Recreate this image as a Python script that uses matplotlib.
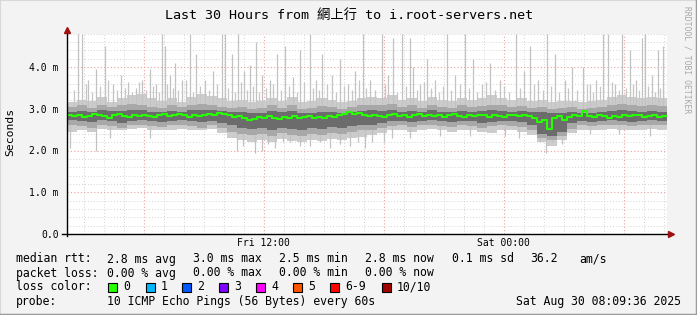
import numpy as np
import pandas as pd
import matplotlib
matplotlib.use("Agg")
import matplotlib.pyplot as plt
import matplotlib.dates as mdates
from matplotlib.ticker import MultipleLocator, FuncFormatter
from matplotlib.patches import Rectangle
from matplotlib.lines import Line2D


# ---------- Data (rtt values in milliseconds) ----------

start = pd.Timestamp("2025-08-29 02:09:36")
end = pd.Timestamp("2025-08-30 08:09:36")

# median rtt, one value per 15 minutes
median_rtt = [
    2.84, 2.82, 2.86, 2.80, 2.83, 2.88, 2.85, 2.82, 2.79, 2.84,
    2.87, 2.83, 2.80, 2.85, 2.82, 2.86, 2.83, 2.80, 2.84, 2.87,
    2.82, 2.85, 2.88, 2.84, 2.81, 2.86, 2.83, 2.85, 2.88, 2.86,
    2.90, 2.87, 2.84,
    2.80, 2.82, 2.78, 2.74, 2.76, 2.80, 2.78, 2.82, 2.79, 2.76,
    2.80, 2.77, 2.82, 2.78, 2.80, 2.83, 2.78, 2.81, 2.79, 2.82,
    2.80, 2.84,
    2.88, 2.92, 2.87, 2.90,
    2.85, 2.82, 2.86, 2.83, 2.80, 2.84, 2.87, 2.82, 2.85, 2.81,
    2.84, 2.88, 2.83, 2.86, 2.82, 2.85, 2.80, 2.84, 2.87, 2.83,
    2.80, 2.85, 2.82, 2.86, 2.84, 2.81, 2.85, 2.83, 2.80, 2.84,
    2.86, 2.82, 2.85, 2.83,
    2.78, 2.68, 2.72, 2.52, 2.78, 2.82, 2.72,
    2.80, 2.84, 2.82, 2.95, 2.83, 2.80, 2.84, 2.82, 2.78, 2.83,
    2.81, 2.85, 2.82, 2.86, 2.84, 2.80, 2.83, 2.85, 2.81, 2.83,
]

# smoke envelopes, one value per 30 minutes
smoke_hi_light = [
    3.15, 3.22, 3.18, 3.28, 3.15, 3.25, 3.32, 3.35, 3.25, 3.18,
    3.25, 3.15, 3.28, 3.35, 3.30, 3.25, 3.18, 3.22, 3.15, 3.18,
    3.25, 3.18, 3.28, 3.15, 3.18, 3.25, 3.22, 3.15, 3.18, 3.25,
    3.28, 3.25, 3.32, 3.22, 3.25, 3.18, 3.28, 3.22, 3.18, 3.25,
    3.22, 3.25, 3.32, 3.25, 3.22, 3.25, 3.18, 3.22, 3.15, 3.18,
    3.18, 3.15, 3.18, 3.22, 3.28, 3.32, 3.28, 3.25, 3.28, 3.25,
]
smoke_hi_mid = [
    3.05, 3.08, 3.02, 3.10, 3.05, 3.08, 3.12, 3.10, 3.05, 3.02,
    3.08, 3.03, 3.10, 3.12, 3.10, 3.05, 3.02, 3.05, 3.00, 3.02,
    3.08, 3.02, 3.10, 3.00, 3.02, 3.06, 3.04, 3.00, 3.03, 3.08,
    3.10, 3.08, 3.12, 3.05, 3.08, 3.02, 3.10, 3.05, 3.02, 3.08,
    3.04, 3.06, 3.10, 3.08, 3.04, 3.06, 3.02, 3.04, 3.00, 3.02,
    3.03, 3.00, 3.02, 3.05, 3.10, 3.12, 3.10, 3.06, 3.10, 3.06,
]
smoke_hi_dark = [
    2.93, 2.95, 2.92, 2.96, 2.94, 2.95, 2.97, 2.96, 2.93, 2.92,
    2.95, 2.93, 2.96, 2.98, 2.97, 2.94, 2.92, 2.93, 2.90, 2.91,
    2.94, 2.92, 2.95, 2.90, 2.91, 2.93, 2.92, 2.90, 2.92, 2.95,
    2.96, 2.95, 2.97, 2.93, 2.95, 2.92, 2.96, 2.93, 2.92, 2.95,
    2.93, 2.94, 2.96, 2.95, 2.93, 2.94, 2.92, 2.93, 2.90, 2.91,
    2.92, 2.90, 2.91, 2.93, 2.95, 2.96, 2.95, 2.93, 2.95, 2.93,
]
smoke_lo_dark = [
    2.72, 2.70, 2.68, 2.72, 2.70, 2.66, 2.70, 2.72, 2.70, 2.68,
    2.70, 2.72, 2.70, 2.68, 2.70, 2.66, 2.60, 2.55, 2.52, 2.55,
    2.50, 2.55, 2.52, 2.50, 2.55, 2.52, 2.56, 2.55, 2.58, 2.60,
    2.62, 2.66, 2.70, 2.70, 2.68, 2.70, 2.72, 2.70, 2.68, 2.70,
    2.70, 2.66, 2.68, 2.70, 2.70, 2.68, 2.60, 2.40, 2.35, 2.45,
    2.65, 2.70, 2.68, 2.70, 2.72, 2.70, 2.68, 2.70, 2.72, 2.70,
]
smoke_lo_mid = [
    2.60, 2.58, 2.55, 2.60, 2.58, 2.55, 2.60, 2.62, 2.58, 2.56,
    2.60, 2.62, 2.58, 2.55, 2.60, 2.55, 2.45, 2.40, 2.38, 2.40,
    2.35, 2.42, 2.38, 2.35, 2.40, 2.38, 2.42, 2.40, 2.45, 2.48,
    2.50, 2.55, 2.58, 2.60, 2.56, 2.60, 2.62, 2.58, 2.56, 2.60,
    2.58, 2.55, 2.58, 2.60, 2.58, 2.56, 2.50, 2.30, 2.25, 2.35,
    2.52, 2.60, 2.58, 2.60, 2.62, 2.60, 2.58, 2.60, 2.62, 2.60,
]
smoke_lo_light = [
    2.45, 2.50, 2.45, 2.52, 2.48, 2.50, 2.52, 2.55, 2.50, 2.48,
    2.50, 2.52, 2.48, 2.50, 2.52, 2.42, 2.30, 2.25, 2.20, 2.25,
    2.20, 2.28, 2.22, 2.20, 2.25, 2.22, 2.28, 2.25, 2.30, 2.32,
    2.38, 2.42, 2.48, 2.50, 2.45, 2.50, 2.52, 2.48, 2.45, 2.50,
    2.48, 2.45, 2.42, 2.50, 2.48, 2.45, 2.38, 2.20, 2.10, 2.25,
    2.42, 2.50, 2.48, 2.50, 2.52, 2.50, 2.48, 2.50, 2.52, 2.50,
]

# single slow pings (hours after start, rtt)
spike_up_hours = [
    0.55, 0.75, 1.05, 1.45, 1.90, 2.30, 2.70, 3.05, 3.45, 3.75,
    4.15, 4.45, 4.75, 4.90, 5.15, 5.40, 5.75, 6.15, 6.45, 6.90,
    7.30, 7.75, 7.90, 8.25, 8.55, 8.85, 9.15, 9.45, 9.75, 10.15,
    10.50, 10.90, 11.30, 11.65, 12.15, 12.45, 12.75, 13.25, 13.65, 14.05,
    14.40, 14.80, 15.15, 15.75, 16.05, 16.30, 16.75, 17.15, 17.30, 17.65,
    18.00, 18.40, 19.00, 19.40, 19.90, 20.30, 20.75, 21.15, 21.65, 22.45,
    22.85, 23.15, 23.55, 24.00, 24.40, 24.90, 25.25, 25.80, 26.15, 26.45,
    26.80, 27.05, 27.40, 27.75, 28.15, 28.45, 28.75, 28.90, 29.25, 29.55,
    29.80,
]
spike_up_top = [
    4.80, 4.80, 3.70, 3.95, 4.50, 3.60, 3.80, 3.65, 3.50, 3.70,
    3.95, 3.60, 4.80, 4.50, 3.80, 4.10, 3.70, 4.80, 4.30, 3.70,
    3.90, 4.80, 4.80, 4.30, 4.80, 3.90, 4.05, 4.60, 3.80, 3.70,
    4.30, 4.50, 3.75, 4.40, 4.80, 3.70, 4.30, 3.80, 4.20, 3.60,
    3.90, 4.80, 3.70, 4.80, 3.80, 4.70, 4.80, 4.70, 4.00, 3.60,
    4.20, 3.70, 4.80, 3.80, 4.80, 4.20, 3.60, 4.10, 3.70, 4.80,
    3.90, 4.50, 3.70, 4.80, 4.30, 3.70, 4.00, 4.00, 3.60, 3.70,
    4.80, 4.80, 3.60, 4.80, 4.40, 3.70, 4.70, 4.80, 3.80, 4.40,
    4.50,
]
# shorter slow pings filling the band above the median
spike_mid_hours = [
    0.35, 0.95, 1.25, 1.65, 2.05, 2.50, 2.90, 3.25, 3.60, 3.95,
    4.30, 4.60, 5.00, 5.30, 5.55, 5.95, 6.30, 6.65, 7.10, 7.50,
    8.05, 8.40, 8.70, 9.00, 9.30, 9.60, 9.95, 10.30, 10.70, 11.10,
    11.50, 11.85, 12.30, 12.60, 13.00, 13.45, 13.85, 14.25, 14.60, 14.95,
    15.40, 15.90, 16.50, 16.95, 17.50, 17.85, 18.20, 18.60, 18.80, 19.20,
    19.65, 20.10, 20.50, 20.95, 21.40, 21.85, 22.10, 22.65, 23.35, 23.80,
    24.20, 24.60, 25.05, 25.50, 26.00, 26.30, 26.65, 27.25, 27.60, 27.95,
    28.30, 28.60, 29.05, 29.40, 29.65,
]
spike_mid_top = [
    3.45, 3.60, 3.40, 3.55, 3.70, 3.45, 3.50, 3.40, 3.65, 3.45,
    3.55, 3.40, 3.60, 3.50, 3.45, 3.70, 3.40, 3.55, 3.45, 3.60,
    3.50, 3.40, 3.65, 3.45, 3.55, 3.40, 3.50, 3.60, 3.45, 3.55,
    3.40, 3.65, 3.50, 3.45, 3.60, 3.40, 3.55, 3.45, 3.70, 3.50,
    3.45, 3.60, 3.40, 3.55, 3.45, 3.65, 3.50, 3.40, 3.55, 3.45,
    3.60, 3.50, 3.40, 3.65, 3.45, 3.55, 3.40, 3.50, 3.60, 3.45,
    3.55, 3.40, 3.50, 3.45, 3.60, 3.40, 3.55, 3.65, 3.45, 3.50,
    3.60, 3.45, 3.55, 3.40, 3.50,
]
# single fast pings (hours after start, rtt)
spike_down_hours = [
    0.15, 1.45, 2.15, 4.15, 8.50, 8.80, 9.40, 9.75, 10.05, 10.40,
    10.80, 11.15, 11.65, 12.15, 12.65, 13.15, 13.65, 14.15, 14.55, 14.90,
    15.25, 15.85, 16.25, 17.15, 18.65, 20.15, 21.90, 22.60, 23.65, 23.95,
    24.25, 24.75, 26.15, 27.60, 29.15,
]
spike_down_bottom = [
    2.05, 2.00, 2.30, 2.30, 2.00, 2.10, 1.95, 2.00, 2.15, 2.05,
    2.20, 2.20, 2.10, 2.10, 2.20, 2.05, 2.15, 2.10, 2.20, 2.05,
    2.20, 2.20, 2.30, 2.30, 2.35, 2.35, 2.35, 2.30, 2.20, 1.95,
    2.20, 2.15, 2.40, 2.40, 2.35,
]

stats_rtt = ["2.8 ms avg", "3.0 ms max", "2.5 ms min", "2.8 ms now", "0.1 ms sd", "36.2", "am/s"]
stats_loss = ["0.00 % avg", "0.00 % max", "0.00 % min", "0.00 % now"]
loss_labels = ["0", "1", "2", "3", "4", "5", "6-9", "10/10"]
loss_colors = ["#26ff00", "#00b8ff", "#0059ff", "#7e00ff", "#ff00ff", "#ff5500", "#ff0000", "#a10000"]
probe_text = "10 ICMP Echo Pings (56 Bytes) every 60s"
stamp_text = "Sat Aug 30 08:09:36 2025"
title_text = "Last 30 Hours from 網上行 to i.root-servers.net"


# ---------- Layout helpers ----------

W, H = 697, 315
MONO = ["DejaVu Sans Mono", "Noto Sans CJK SC"]
BG = "#f3f3f3"


def px(x, y):
    """image pixel -> figure fraction"""
    return x / W, 1 - y / H


def put(fig, x, y, s, size=8.3, **kw):
    fx, fy = px(x, y)
    fig.text(fx, fy, s, fontsize=size, family=MONO, va="center", **kw)


def hours_to_time(hours):
    return [start + pd.Timedelta(hours=h) for h in hours]


# ---------- Plot ----------

def main():
    fig = plt.figure(figsize=(W / 100, H / 100), dpi=100, facecolor=BG)
    left, bottom = px(67, 234)
    ax = fig.add_axes([left, bottom, 600 / W, (234 - 33.6) / H])
    ax.set_facecolor("white")

    assert len(median_rtt) == 120
    t_med = pd.date_range(start, periods=len(median_rtt) + 1, freq="15min")
    t_smk = pd.date_range(start, periods=len(smoke_hi_light) + 1, freq="30min")

    def ext(a):
        return np.append(a, a[-1])

    ax.fill_between(t_smk, ext(smoke_lo_light), ext(smoke_hi_light),
                    step="post", color="#cccccc", lw=0, zorder=2)
    ax.vlines(hours_to_time(spike_up_hours), 3.0, spike_up_top, color="#c2c2c2", lw=0.9, zorder=2)
    ax.vlines(hours_to_time(spike_mid_hours), 3.0, spike_mid_top, color="#c6c6c6", lw=0.9, zorder=2)
    ax.vlines(hours_to_time(spike_down_hours), spike_down_bottom, 2.6, color="#c2c2c2", lw=0.9, zorder=2)
    ax.fill_between(t_smk, ext(smoke_lo_mid), ext(smoke_hi_mid),
                    step="post", color="#a8a8a8", lw=0, zorder=3)
    ax.fill_between(t_smk, ext(smoke_lo_dark), ext(smoke_hi_dark),
                    step="post", color="#6c6c6c", lw=0, zorder=3)
    ax.step(t_med, ext(median_rtt), where="post", color="#26ff00", lw=1.5, zorder=4)

    ax.set_xlim(start, end)
    ax.set_ylim(0, 4.8)

    # grid: hours / 6 hours, 0.2 ms / 1 ms
    ax.xaxis.set_minor_locator(mdates.HourLocator())
    ax.xaxis.set_major_locator(mdates.HourLocator(byhour=[0, 6, 12, 18]))

    def xfmt(v, pos):
        d = mdates.num2date(v)
        return d.strftime("%a %H:%M") if d.hour in (0, 12) else ""

    ax.xaxis.set_major_formatter(FuncFormatter(xfmt))
    ax.yaxis.set_major_locator(MultipleLocator(1.0))
    ax.yaxis.set_minor_locator(MultipleLocator(0.2))
    ax.yaxis.set_major_formatter(FuncFormatter(lambda v, p: "0.0" if v == 0 else f"{v:.1f} m"))

    ax.grid(which="minor", color="#d4d4d4", ls=(0, (1, 2)), lw=0.7, zorder=1)
    ax.grid(which="major", color="#eaa0a0", ls=(0, (1, 2)), lw=0.8, zorder=1)
    ax.set_axisbelow(True)
    ax.tick_params(which="both", length=0)
    ax.tick_params(axis="y", pad=6, labelsize=7)
    ax.tick_params(axis="x", pad=3, labelsize=7)
    for lab in ax.get_xticklabels() + ax.get_yticklabels():
        lab.set_family(MONO)
    for s in ax.spines.values():
        s.set_visible(False)

    # axis lines with arrows
    ax.plot([-0.008, 1.004], [0, 0], color="black", lw=1, transform=ax.transAxes, clip_on=False, zorder=5)
    ax.plot([0, 0], [-0.01, 1.01], color="black", lw=1, transform=ax.transAxes, clip_on=False, zorder=5)
    ax.plot([1.007], [0], marker=">", ms=4, color="#a01010", transform=ax.transAxes, clip_on=False, zorder=6)
    ax.plot([0], [1.018], marker="^", ms=4, color="#a01010", transform=ax.transAxes, clip_on=False, zorder=6)

    # titles
    fx, fy = px(349, 15)
    fig.text(fx, fy, title_text, fontsize=9.6, family=MONO, ha="center", va="center")
    fx, fy = px(10, 132)
    fig.text(fx, fy, "Seconds", fontsize=8.2, family=MONO, rotation=90, ha="center", va="center")
    fx, fy = px(687, 60)
    fig.text(fx, fy, "RRDTOOL / TOBI OETIKER", fontsize=5.8, family=MONO, rotation=270,
             ha="center", va="center", color="#a8a8a8")

    # legend
    put(fig, 16, 259, "median rtt:")
    for x, s in zip([107, 193, 279, 365, 452, 530, 579], stats_rtt):
        put(fig, x, 259, s)
    put(fig, 16, 273, "packet loss:")
    for x, s in zip([107, 193, 279, 365], stats_loss):
        put(fig, x, 273, s)
    put(fig, 16, 287, "loss color:")
    box_x = [108, 146, 182, 219, 256, 293, 330, 382]
    for x, s, c in zip(box_x, loss_labels, loss_colors):
        bx, by = px(x, 291.5)
        fig.add_artist(Rectangle((bx, by), 9 / W, 9 / H, transform=fig.transFigure,
                                 facecolor=c, edgecolor="black", lw=0.8))
        put(fig, x + 15, 287, s)
    put(fig, 16, 301, "probe:")
    put(fig, 107, 301, probe_text)
    put(fig, 681, 301, stamp_text, ha="right")

    # rrdtool style frame
    fig.add_artist(Line2D([0, 0], [0, 1], color="#d8d8d8", lw=1.5, transform=fig.transFigure))
    fig.add_artist(Line2D([0, 1], [1, 1], color="#d8d8d8", lw=1.5, transform=fig.transFigure))
    fig.add_artist(Line2D([1, 1], [0, 1], color="#9a9a9a", lw=2.5, transform=fig.transFigure))
    fig.add_artist(Line2D([0, 1], [0, 0], color="#9a9a9a", lw=2.5, transform=fig.transFigure))

    fig.savefig("out.png", dpi=100, facecolor=BG)


if __name__ == "__main__":
    main()
